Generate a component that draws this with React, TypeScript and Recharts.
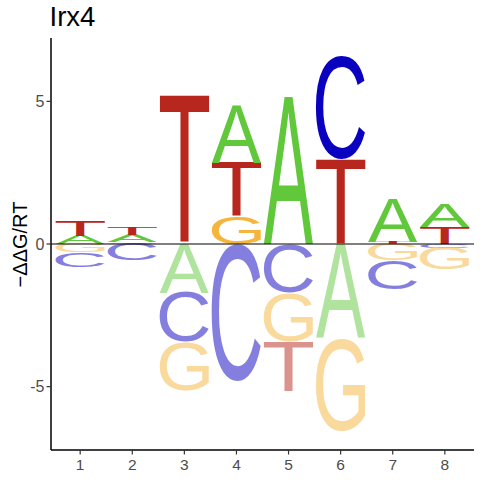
import React from 'react'
import { ComposedChart, XAxis, YAxis, ReferenceArea, ReferenceLine, Scatter } from 'recharts'

const positions = [1, 2, 3, 4, 5, 6, 7, 8]
const yTicks = [-5, 0, 5]

// letters above zero, listed from zero upward
const gainLetters = [['A', 'T'], ['G', 'A', 'T'], ['T'], ['G', 'T', 'A'], ['A'], ['T', 'C'], ['T', 'A'], ['T', 'A']]
const gainValues = [[0.29, 0.55], [0.06, 0.26, 0.29], [5.17], [0.95, 1.9, 2.0], [5.17], [2.97, 3.6], [0.08, 1.52], [0.6, 0.82]]

// letters below zero, listed from zero downward
const lossLetters = [['G', 'C'], ['C'], ['A', 'C', 'G'], ['C'], ['C', 'G', 'T'], ['A', 'G'], ['G', 'C'], ['C', 'G']]
const lossValues = [[0.3, 0.51], [0.58], [1.7, 1.73, 1.72], [4.81], [1.7, 1.71, 1.75], [3.3, 3.25], [0.58, 1.0], [0.13, 0.76]]

const LETTER_COLORS: Record<string, string> = {
  A: '#61c83c',
  C: '#0a00c0',
  G: '#f5b43c',
  T: '#b8271d',
}

const FONT = '"Liberation Sans", Arial, Helvetica, sans-serif'
const LETTER_WIDTH = 0.95

type Glyph = { left: number; right: number; asc: number; desc: number }

// Arial-ish ink boxes at 100px, used if the canvas can't measure
const FALLBACK: Record<string, Glyph> = {
  A: { left: 0.15, right: 66.8, asc: 71.6, desc: 0 },
  C: { left: -5.0, right: 67.9, asc: 72.8, desc: 1.2 },
  G: { left: -5.5, right: 72.2, asc: 72.8, desc: 1.2 },
  T: { left: -2.3, right: 59.1, asc: 71.6, desc: 0 },
}

/**
 * Measure the tight ink box of each letter so it can be stretched to fill its cell
 */
function measureGlyphs(): Record<string, Glyph> {
  const out: Record<string, Glyph> = { ...FALLBACK }
  try {
    const ctx = document.createElement('canvas').getContext('2d')
    if (!ctx) return out
    ctx.font = `100px ${FONT}`
    for (const l of Object.keys(FALLBACK)) {
      const m = ctx.measureText(l)
      if (m.actualBoundingBoxAscent > 0) {
        out[l] = {
          left: m.actualBoundingBoxLeft,
          right: m.actualBoundingBoxRight,
          asc: m.actualBoundingBoxAscent,
          desc: m.actualBoundingBoxDescent,
        }
      }
    }
  } catch (e) {
    // keep fallback
  }
  return out
}

const GLYPHS = measureGlyphs()

function letterShape(letter: string, faded: boolean) {
  return (props: { x?: number; y?: number; width?: number; height?: number }) => {
    const { x = 0, y = 0, width = 0, height = 0 } = props
    if (!(height > 0.1)) return <g />
    const g = GLYPHS[letter]
    const sx = width / (g.left + g.right)
    const sy = height / (g.asc + g.desc)
    return (
      <g transform={`translate(${x},${y}) scale(${sx},${sy})`}>
        <text
          x={g.left}
          y={g.asc}
          fontSize={100}
          fontFamily={FONT}
          fill={LETTER_COLORS[letter]}
          fillOpacity={faded ? 0.5 : 1}
        >
          {letter}
        </text>
      </g>
    )
  }
}

type Cell = { pos: number; letter: string; y1: number; y2: number; faded: boolean }

const cells: Cell[] = positions.flatMap((pos, i) => {
  let top = 0
  const up = gainLetters[i].map((letter, j) => {
    const y1 = top
    top += gainValues[i][j]
    return { pos, letter, y1, y2: top, faded: false }
  })
  let bottom = 0
  const down = lossLetters[i].map((letter, j) => {
    const y1 = bottom
    bottom -= lossValues[i][j]
    return { pos, letter, y1, y2: bottom, faded: true }
  })
  return [...up, ...down]
})

const chartData = positions.map((pos) => ({ pos, base: 0 }))

export default function App() {
  return (
    <div style={{ position: 'absolute', left: 0, top: 0, width: 480, height: 480, background: '#fff' }}>
      <ComposedChart
        width={480}
        height={480}
        data={chartData}
        margin={{ top: 38, right: 6, bottom: 0, left: 0 }}
      >
        <XAxis
          dataKey="pos"
          type="number"
          domain={[0.44, 8.56]}
          ticks={positions}
          allowDataOverflow
          height={30}
          tickSize={4.5}
          tickMargin={4.5}
          axisLine={{ stroke: '#000', strokeWidth: 1.5 }}
          tickLine={{ stroke: '#333', strokeWidth: 1.2 }}
          tick={{ fill: '#4d4d4d', fontSize: 15.5, fontFamily: FONT }}
        />
        <YAxis
          type="number"
          domain={[-7.22, 7.22]}
          ticks={yTicks}
          allowDataOverflow
          width={51}
          tickSize={4.5}
          tickMargin={2}
          axisLine={{ stroke: '#000', strokeWidth: 1.5 }}
          tickLine={{ stroke: '#333', strokeWidth: 1.2 }}
          tick={{ fill: '#4d4d4d', fontSize: 16, fontFamily: FONT }}
        />

        {/* each letter is an area stretched to its value */}
        {cells.map((c, k) => (
          <ReferenceArea
            key={k}
            x1={c.pos - LETTER_WIDTH / 2}
            x2={c.pos + LETTER_WIDTH / 2}
            y1={c.y1}
            y2={c.y2}
            ifOverflow="visible"
            shape={letterShape(c.letter, c.faded)}
          />
        ))}

        <ReferenceLine y={0} stroke="#000" strokeWidth={1} ifOverflow="visible" />

        {/* invisible series so the axes have data */}
        <Scatter dataKey="base" shape={() => <g />} isAnimationActive={false} legendType="none" />
      </ComposedChart>

      <svg
        width={480}
        height={480}
        style={{ position: 'absolute', left: 0, top: 0, pointerEvents: 'none' }}
      >
        <text x={49.5} y={26} fontSize={27.5} fontFamily={FONT} fill="#000">
          Irx4
        </text>
        <text
          transform="translate(26.5,244.5) rotate(-90)"
          textAnchor="middle"
          fontSize={20}
          fontFamily={FONT}
          fill="#000"
        >
          −ΔΔG/RT
        </text>
      </svg>
    </div>
  )
}
